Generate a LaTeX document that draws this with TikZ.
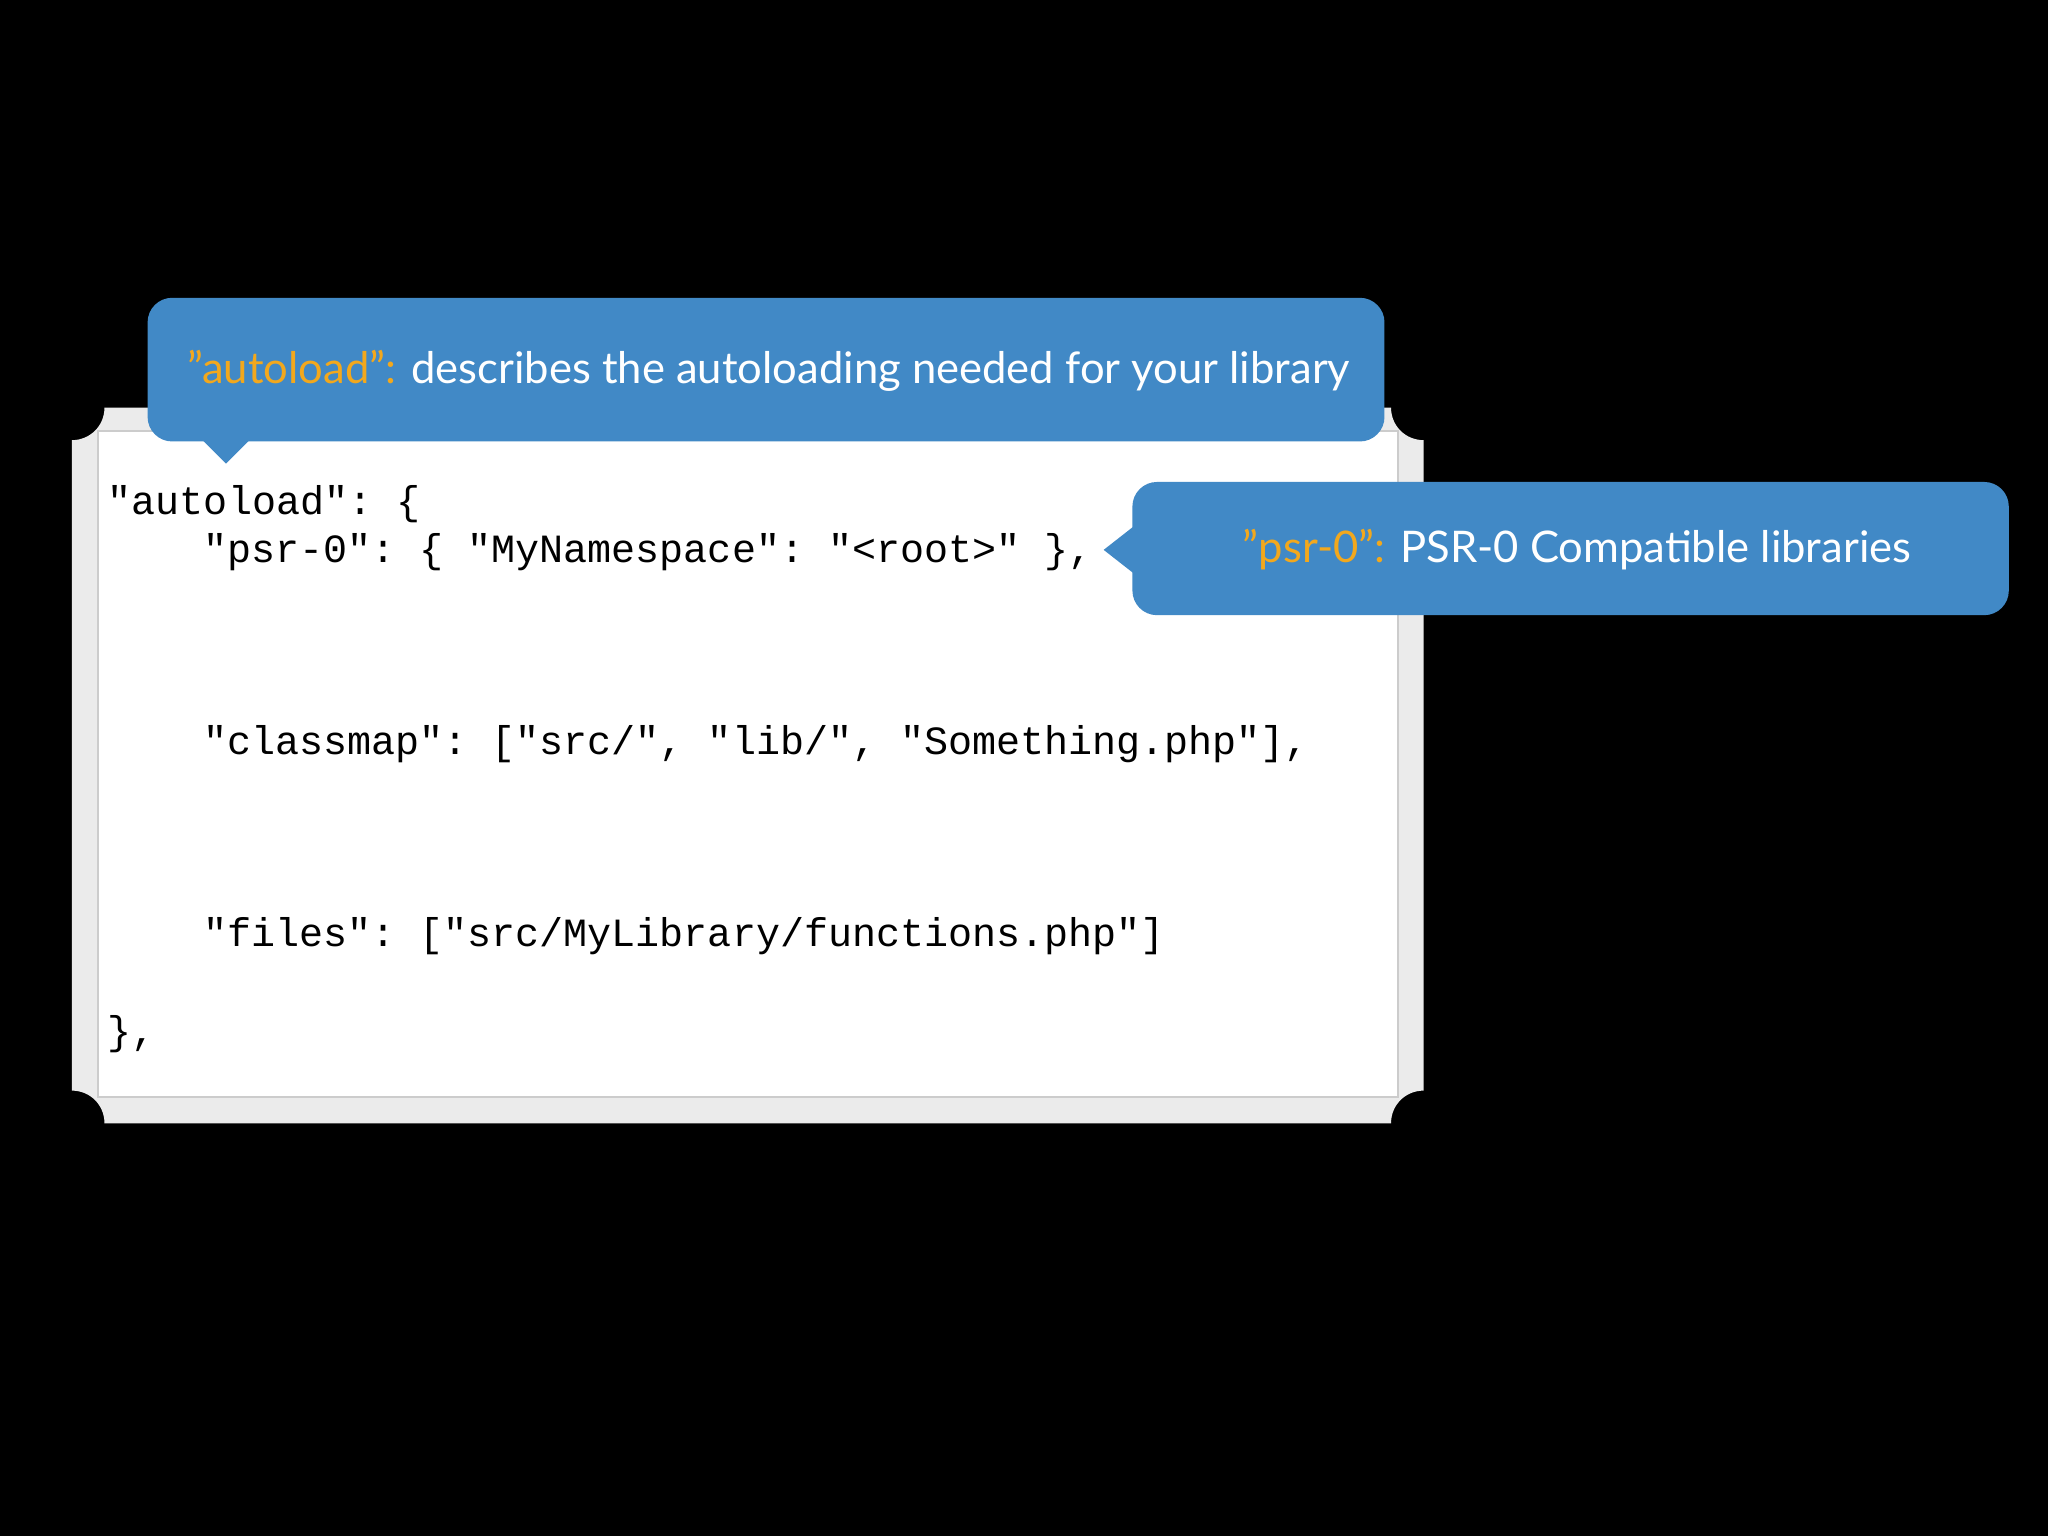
\documentclass[tikz,border=0pt]{standalone}
\usepackage{fontspec}
\setmainfont{Lato}
\setmonofont{Liberation Mono}
\definecolor{bub}{HTML}{4189C6}
\definecolor{org}{HTML}{F2A81D}
\definecolor{frame}{HTML}{EBEBEB}
\begin{document}
\begin{tikzpicture}[x=0.01306cm,y=-0.01306cm,
  code/.style={anchor=west,inner sep=0,font=\fontsize{11.4pt}{13pt}\ttfamily},
  ctext/.style={anchor=west,inner sep=0,text=white,font=\fontsize{12.4pt}{14pt}\selectfont}]
\fill[black] (0,0) rectangle (1568,1176);
\useasboundingbox (0,0) rectangle (1568,1176);
% card
\fill[frame] (80,312) -- (1065,312) .. controls (1065,326) and (1076,337) .. (1090,337)
  -- (1090,835) .. controls (1076,835) and (1065,846) .. (1065,860)
  -- (80,860) .. controls (80,846) and (69,835) .. (55,835)
  -- (55,337) .. controls (69,337) and (80,326) .. (80,312) -- cycle;
\fill[white,draw=black!20,line width=0.6pt] (75,330) rectangle (1070,840);
% code
\node[code] (l1) at (82,386) {"autoload": \{};
\node[code] (l2) at (155,423) {"psr-0": \{ "MyNamespace": "<root>" \},};
\node[code] (l3) at (155,570) {"classmap": ["src/", "lib/", "Something.php"],};
\node[code] (l4) at (155,717) {"files": ["src/MyLibrary/functions.php"]};
\node[code] (l5) at (82,792) {\},};
% bubble 1
\fill[bub,rounded corners=7pt] (113,228) rectangle (1060,338);
\fill[bub] (155,337) -- (173,355) -- (191,337) -- cycle;
\node[ctext] (t1) at (143,284) {\textcolor{org}{”autoload”:} describes the autoloading needed for your library};
% bubble 2
\fill[bub,rounded corners=7pt] (867,369) rectangle (1538,471);
\fill[bub] (868,403) -- (845,421) -- (868,439) -- cycle;
\node[ctext] (t2) at (951,421) {\textcolor{org}{”psr-0”:} PSR-0 Compatible libraries};
\end{tikzpicture}
\end{document}
